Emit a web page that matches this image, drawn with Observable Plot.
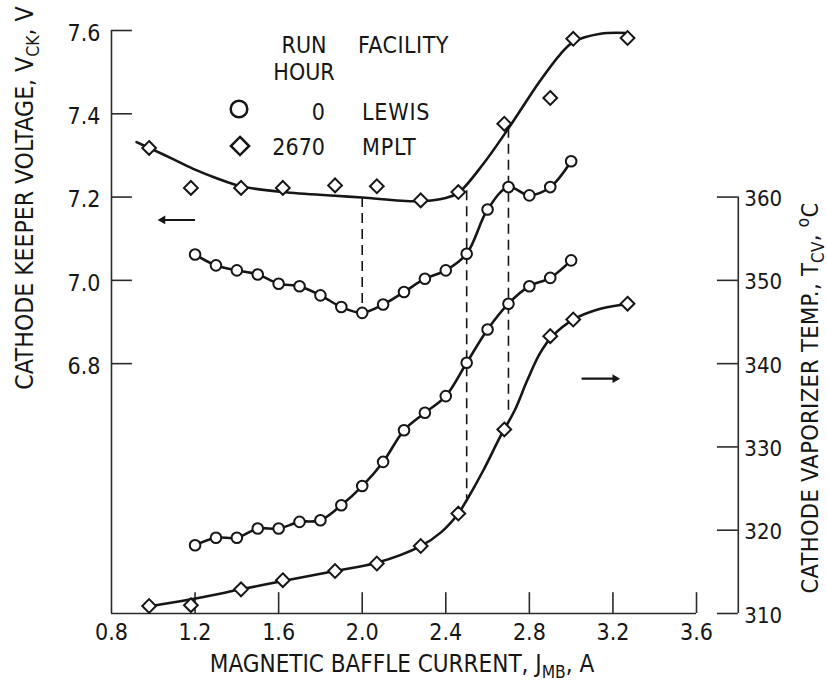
<!DOCTYPE html>
<html><head><meta charset="utf-8">
<script src="https://cdn.jsdelivr.net/npm/d3@7"></script>
<script src="https://cdn.jsdelivr.net/npm/@observablehq/plot@0.6"></script>
<style>body{margin:0;background:#fff}#chart svg{display:block}</style>
</head><body><div id="chart"></div>
<script>
const FONT = '"Liberation Sans Narrow","DejaVu Sans Condensed","Liberation Sans",sans-serif';

// Axis ticks
const xTicks = [0.8, 1.2, 1.6, 2.0, 2.4, 2.8, 3.2, 3.6];
const xTickLabels = ["0.8", "1.2", "1.6", "2.0", "2.4", "2.8", "3.2", "3.6"];
const vTicks = [6.8, 7.0, 7.2, 7.4, 7.6];
const vTickLabels = ["6.8", "7.0", "7.2", "7.4", "7.6"];
const tTicks = [310, 320, 330, 340, 350, 360];
const tTickLabels = ["310", "320", "330", "340", "350", "360"];

// Keeper voltage, run hour 0 (Lewis) — circles
const lewisX = [1.2, 1.3, 1.4, 1.5, 1.6, 1.7, 1.8, 1.9, 2.0, 2.1, 2.2, 2.3, 2.4, 2.5, 2.6, 2.7, 2.8, 2.9, 3.0];
const lewisV = [7.062, 7.036, 7.024, 7.014, 6.992, 6.986, 6.964, 6.936, 6.922, 6.942, 6.972, 7.004, 7.024, 7.064, 7.17, 7.224, 7.204, 7.224, 7.286];
// Vaporizer temperature, run hour 0 (Lewis) — circles
const lewisT = [318.2, 319.1, 319.1, 320.2, 320.2, 321.0, 321.2, 323.0, 325.3, 328.2, 332.0, 334.1, 336.1, 340.1, 344.1, 347.2, 349.3, 350.3, 352.4];

// Run hour 2670 (MPLT) — diamonds
const mpltX = [0.98, 1.18, 1.42, 1.62, 1.87, 2.07, 2.28, 2.46, 2.68, 2.9, 3.01, 3.27];
const mpltV = [7.318, 7.222, 7.222, 7.222, 7.228, 7.226, 7.192, 7.212, 7.376, 7.438, 7.58, 7.582];
const mpltT = [310.9, 311.0, 312.9, 314.0, 315.1, 316.0, 318.1, 322.0, 332.1, 343.3, 345.3, 347.2];

// Faired curves through the 2670-hour data
const fitVX = [0.92, 0.98, 1.1, 1.2, 1.3, 1.42, 1.62, 1.87, 2.0, 2.27, 2.4, 2.46, 2.58, 2.7, 2.85, 2.95, 3.01, 3.14, 3.27];
const fitVY = [7.332, 7.318, 7.29, 7.266, 7.246, 7.226, 7.212, 7.203, 7.199, 7.19, 7.198, 7.21, 7.28, 7.365, 7.478, 7.544, 7.572, 7.592, 7.594];
const fitTX = [0.99, 1.18, 1.42, 1.62, 1.87, 2.07, 2.28, 2.38, 2.46, 2.5, 2.58, 2.66, 2.73, 2.79, 2.85, 2.91, 3.01, 3.14, 3.28];
const fitTY = [310.9, 311.7, 312.9, 313.9, 315.1, 316.1, 318.1, 319.8, 322.0, 323.6, 327.2, 331.2, 334.4, 338.0, 341.2, 343.3, 345.3, 346.6, 347.2];

// Dashed reference lines: x, top (voltage), bottom [scale, value]
const dashX = [2.0, 2.5, 2.7];
const dashTopV = [7.199, 7.215, 7.365];
const dashBottom = [["V", 6.935], ["T", 323.8], ["T", 333.8]];

// Axis-pointer arrows: [x tail, x head, scale, value]
const arrows = [[1.2, 1.045, "V", 7.145], [3.05, 3.21, "T", 338.2]];

// Right axis (temperature) shares the frame: 360 °C ↔ 7.2 V, 10 °C ↔ 0.2 V
const tToV = t => 6.8 + (t - 340) * 0.02;
const toV = (s, v) => s === "T" ? tToV(v) : v;

const xAxisAt = 0.8, xEnd = 3.6, rightAxisAt = 3.8, rightTickFrom = 3.7;
const vBottom = 6.2, vTop = 7.6;

const zip = (xs, ys) => xs.map((x, i) => ({x, y: ys[i]}));
const lewisVData = zip(lewisX, lewisV);
const lewisTData = zip(lewisX, lewisT.map(tToV));
const mpltVData = zip(mpltX, mpltV);
const mpltTData = zip(mpltX, mpltT.map(tToV));
const fitVData = zip(fitVX, fitVY);
const fitTData = zip(fitTX, fitTY.map(tToV));
const dashData = dashX.map((x, i) => ({x, y1: dashTopV[i], y2: toV(...dashBottom[i])}));
const arrowData = arrows.map(([x1, x2, s, v]) => ({x1, x2, y: toV(s, v), dir: x2 > x1 ? 90 : -90}));

const INK = "#161616";
const AX = "#2a2a2a";

const plot = Plot.plot({
  width: 827, height: 689,
  marginLeft: 111, marginRight: 131, marginTop: 30, marginBottom: 76,
  x: {domain: [0.8, 3.6], axis: null},
  y: {domain: [vBottom, vTop], axis: null},
  style: {background: "white", overflow: "visible"},
  marks: [
    // axes
    Plot.ruleX([xAxisAt], {y1: vBottom, y2: vTop, stroke: AX, strokeWidth: 1.6}),
    Plot.ruleY([vBottom], {x1: xAxisAt, x2: xEnd, stroke: AX, strokeWidth: 1.6}),
    Plot.ruleX([rightAxisAt], {y1: vBottom, y2: tToV(360), stroke: AX, strokeWidth: 1.6}),
    Plot.ruleY(vTicks, {x1: xAxisAt, x2: xAxisAt + 0.1, stroke: AX, strokeWidth: 1.6}),
    Plot.ruleX(xTicks.slice(1), {y1: vBottom, y2: vBottom + 0.05, stroke: AX, strokeWidth: 1.6}),
    Plot.ruleY(tTicks.map(tToV), {x1: rightTickFrom, x2: rightAxisAt, stroke: AX, strokeWidth: 1.6}),
    // tick labels
    Plot.text(xTicks, {x: d => d, y: vBottom, dy: 19, text: (d, i) => xTickLabels[i], fontFamily: FONT, fontSize: 23, fill: INK, letterSpacing: 1}),
    Plot.text(vTicks, {x: xAxisAt, y: d => d, dx: -11, dy: 3, textAnchor: "end", text: (d, i) => vTickLabels[i], fontFamily: FONT, fontSize: 23, fill: INK, letterSpacing: 1}),
    Plot.text(tTicks, {x: rightAxisAt, y: d => tToV(d), dx: 6, dy: 2, textAnchor: "start", text: (d, i) => tTickLabels[i], fontFamily: FONT, fontSize: 22, fill: INK, letterSpacing: -0.5}),
    // dashed guides
    Plot.ruleX(dashData, {x: "x", y1: "y1", y2: "y2", stroke: INK, strokeWidth: 1.6, strokeDasharray: "10,6"}),
    // curves
    Plot.line(fitVData, {x: "x", y: "y", curve: "catmull-rom", stroke: INK, strokeWidth: 2.6}),
    Plot.line(fitTData, {x: "x", y: "y", curve: "catmull-rom", stroke: INK, strokeWidth: 2.6}),
    Plot.line(lewisVData, {x: "x", y: "y", curve: "catmull-rom", stroke: INK, strokeWidth: 2.6}),
    Plot.line(lewisTData, {x: "x", y: "y", curve: "catmull-rom", stroke: INK, strokeWidth: 2.6}),
    // points
    Plot.dot(lewisVData, {x: "x", y: "y", r: 5.3, fill: "white", stroke: INK, strokeWidth: 2}),
    Plot.dot(lewisTData, {x: "x", y: "y", r: 5.3, fill: "white", stroke: INK, strokeWidth: 2}),
    Plot.dot(mpltVData, {x: "x", y: "y", r: 6.2, symbol: "diamond2", fill: "white", stroke: INK, strokeWidth: 2}),
    Plot.dot(mpltTData, {x: "x", y: "y", r: 6.2, symbol: "diamond2", fill: "white", stroke: INK, strokeWidth: 2}),
    // arrows
    Plot.link(arrowData, {x1: "x1", x2: "x2", y1: "y", y2: "y", stroke: INK, strokeWidth: 2.2}),
    Plot.dot(arrowData, {x: "x2", y: "y", symbol: "triangle2", r: 4.2, fill: INK, stroke: "none", rotate: "dir"})
  ]
});
document.getElementById("chart").appendChild(plot);

// Titles and legend (text with subscripts)
const svg = d3.select(plot);
function label(x, y, parts, {rotate = 0, anchor = "middle", size = 25, spacing = 0} = {}) {
  const t = svg.append("text")
    .attr("transform", `translate(${x},${y}) rotate(${rotate})`)
    .attr("text-anchor", anchor)
    .attr("font-family", FONT).attr("font-size", size)
    .attr("letter-spacing", spacing).attr("fill", INK);
  let shift = 0;
  for (const p of parts) {
    const s = typeof p === "string" ? {t: p} : p;
    const want = s.sub ? 6 : s.sup ? -9 : 0;
    const ts = t.append("tspan").text(s.t).attr("dy", want - shift);
    if (s.sub || s.sup) ts.attr("font-size", size * 0.72);
    shift = want;
  }
  return t;
}
label(33, 198, ["CATHODE KEEPER VOLTAGE, V", {t: "CK", sub: true}, ", V"], {rotate: -90, size: 24.5});
label(818, 398, ["CATHODE VAPORIZER TEMP., T", {t: "CV", sub: true}, ", ", {t: "o", sup: true}, "C"], {rotate: -90, size: 23.5, spacing: 0.3});
label(402, 672, ["MAGNETIC BAFFLE CURRENT, J", {t: "MB", sub: true}, ", A"], {size: 24});

// legend
label(304, 53, ["RUN"], {size: 23});
label(304, 80, ["HOUR"], {size: 23});
label(358, 53, ["FACILITY"], {size: 23, anchor: "start", spacing: 0.5});
label(325, 120, ["0"], {size: 23, anchor: "end"});
label(362, 120, ["LEWIS"], {size: 23, anchor: "start", spacing: 0.8});
label(325, 155, ["2670"], {size: 23, anchor: "end"});
label(362, 155, ["MPLT"], {size: 23, anchor: "start", spacing: 0.8});
svg.append("circle").attr("cx", 239).attr("cy", 109).attr("r", 8.3)
  .attr("fill", "white").attr("stroke", INK).attr("stroke-width", 2.5);
svg.append("path").attr("transform", "translate(240,146)")
  .attr("d", d3.symbol(d3.symbolDiamond2, 210)())
  .attr("fill", "white").attr("stroke", INK).attr("stroke-width", 2.5);
</script>
</body></html>
